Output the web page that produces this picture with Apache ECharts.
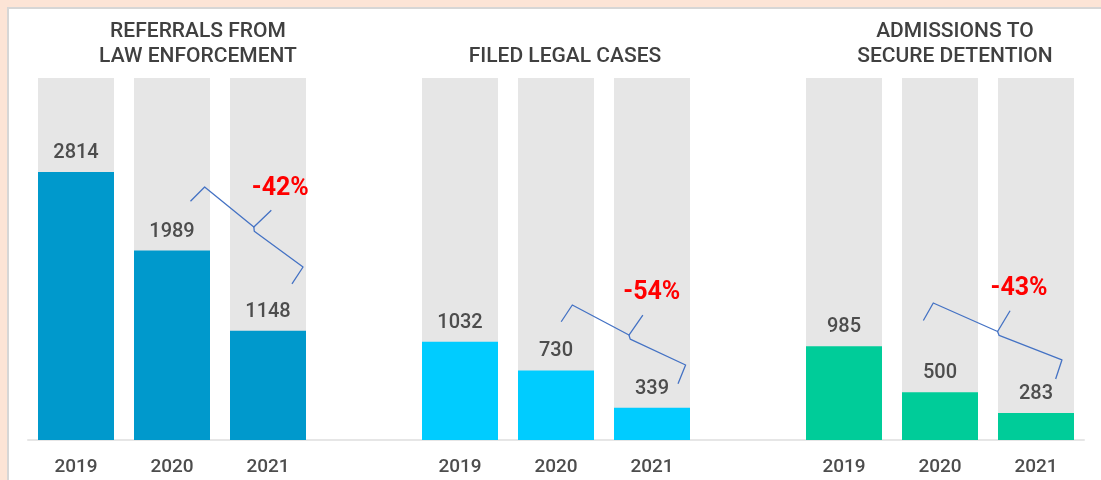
<!DOCTYPE html>
<html>
<head>
<meta charset="utf-8">
<script src="https://cdn.jsdelivr.net/npm/echarts@6/dist/echarts.min.js"></script>
<style>
  html, body { margin: 0; padding: 0; background: #fce4d6; }
  #chart { width: 1101px; height: 480px; }
</style>
</head>
<body>
<div id="chart"></div>
<script>
// data
const years = ['2019', '2020', '2021'];
const referrals = [2814, 1989, 1148];
const filedCases = [1032, 730, 339];
const admissions = [985, 500, 283];
const panelTitles = ['REFERRALS FROM\nLAW ENFORCEMENT', 'FILED LEGAL CASES', 'ADMISSIONS TO\nSECURE DETENTION'];
const panelColors = ['#0099cc', '#00ccff', '#00cc99'];
const yMax = 3800;

// brace annotations, in data space: [slot, offset in slot widths, value]
const braceStart = [[1, 0.34, 2656], [5, 0.17, 1417], [9, -0.07, 1438]];
const braceEnd = [[2, 0.365, 1816], [6, 0.35, 787], [10, 0.27, 840]];

const groups = [referrals, filedCases, admissions];
const categories = [];
const values = [];
const bgValues = [];
groups.forEach(function (g, gi) {
  if (gi > 0) {
    // empty slot between panels
    categories.push('');
    values.push('-');
    bgValues.push('-');
  }
  g.forEach(function (v, i) {
    categories.push(years[i]);
    values.push({ value: v, itemStyle: { color: panelColors[gi] } });
    bgValues.push(yMax);
  });
});

// % change 2020 -> 2021 for each panel
const changeLabels = groups.map(function (g) {
  return Math.round((g[2] - g[1]) / g[1] * 100) + '%';
});
const braceData = braceStart.map(function (s, i) {
  const e = braceEnd[i];
  return [s[0], s[2], e[0], e[2], s[1], e[1], i];
});

const textColor = '#4d4d4d';

function renderBrace(params, api) {
  const w = api.size([1, 0])[0];
  const a = api.coord([api.value(0), api.value(1)]);
  const b = api.coord([api.value(2), api.value(3)]);
  a[0] += api.value(4) * w;
  b[0] += api.value(5) * w;
  const dx = b[0] - a[0], dy = b[1] - a[1];
  const len = Math.sqrt(dx * dx + dy * dy);
  const u = [dx / len, dy / len];
  const n = [u[1], -u[0]]; // normal pointing up-right
  const hook = 20, tip = 24;
  const m = [(a[0] + b[0]) / 2, (a[1] + b[1]) / 2];
  const hs = [a[0] - n[0] * hook - u[0] * 2, a[1] - n[1] * hook - u[1] * 2];
  const he = [b[0] - n[0] * hook + u[0] * 2, b[1] - n[1] * hook + u[1] * 2];
  const t = [m[0] + n[0] * tip + u[0] * 3, m[1] + n[1] * tip + u[1] * 3];
  const m2 = [m[0] + u[0] * 3 - n[0] * 3, m[1] + u[1] * 3 - n[1] * 3];
  const lineStyle = { stroke: '#4472c4', lineWidth: 1.3, fill: null, lineJoin: 'round' };
  return {
    type: 'group',
    children: [
      { type: 'polyline', shape: { points: [hs, a, m, t] }, style: lineStyle },
      { type: 'polyline', shape: { points: [m, m2, b, he] }, style: lineStyle },
      {
        type: 'text',
        x: t[0] + 9,
        y: t[1] - 22,
        style: {
          text: changeLabels[api.value(6)],
          fill: '#ff0000',
          font: 'bold 25px Roboto',
          align: 'center',
          verticalAlign: 'middle'
        }
      }
    ]
  };
}

const titleFont = '500 21px Roboto';

const chart = echarts.init(document.getElementById('chart'));
chart.setOption({
  backgroundColor: '#fce4d6',
  animation: false,
  graphic: [
    {
      type: 'rect',
      z: -100,
      shape: { x: 8, y: 8, width: 1100, height: 480 },
      style: { fill: '#ffffff', stroke: '#d6d6d6', lineWidth: 2 }
    },
    { type: 'text', x: 198, y: 44, style: { text: panelTitles[0], font: titleFont, fill: '#404040', align: 'center', verticalAlign: 'middle', lineHeight: 25 } },
    { type: 'text', x: 565, y: 57, style: { text: panelTitles[1], font: titleFont, fill: '#404040', align: 'center', verticalAlign: 'middle', lineHeight: 25 } },
    { type: 'text', x: 955, y: 44, style: { text: panelTitles[2], font: titleFont, fill: '#404040', align: 'center', verticalAlign: 'middle', lineHeight: 25 } }
  ],
  grid: { left: 28, right: 17, top: 78, bottom: 40 },
  xAxis: {
    type: 'category',
    data: categories,
    axisLine: { lineStyle: { color: '#e6e6e6', width: 2 } },
    axisTick: { show: false },
    axisLabel: { interval: 0, margin: 18, color: textColor, fontFamily: 'Roboto', fontWeight: 500, fontSize: 19 }
  },
  yAxis: { type: 'value', min: 0, max: yMax, show: false, splitLine: { show: false } },
  series: [
    {
      type: 'bar',
      data: bgValues,
      barWidth: 76,
      barGap: '-100%',
      silent: true,
      itemStyle: { color: '#e6e6e6' }
    },
    {
      type: 'bar',
      data: values,
      barWidth: 76,
      label: {
        show: true,
        position: 'top',
        distance: 9,
        color: textColor,
        fontFamily: 'Roboto',
        fontWeight: 500,
        fontSize: 20
      }
    },
    {
      type: 'custom',
      data: braceData,
      encode: { x: [0, 2], y: [1, 3] },
      renderItem: renderBrace,
      silent: true,
      z: 5
    }
  ]
});
</script>
</body>
</html>
